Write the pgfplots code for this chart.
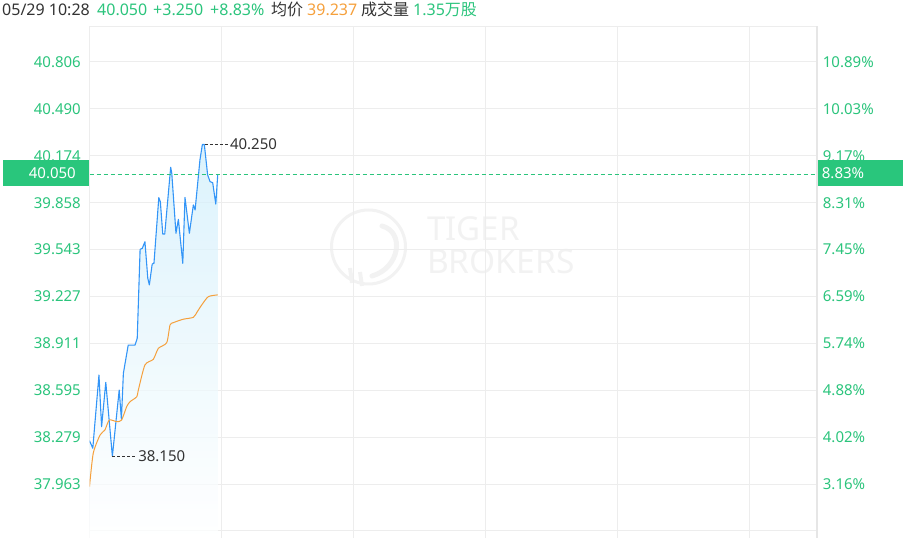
\documentclass[border=0pt]{standalone}
\usepackage{pgfplots}
\pgfplotsset{compat=1.18}
\usepackage{fontspec}
\setmainfont{Noto Sans}
\newfontfamily\cjk{Noto Sans CJK SC}
\definecolor{upgreen}{HTML}{2BC47C}
\definecolor{tagfill}{HTML}{29C67C}
\definecolor{darktext}{HTML}{333333}
\definecolor{avgorange}{HTML}{F5A03C}
\definecolor{lineblue}{HTML}{3395F7}
\definecolor{filltop}{HTML}{D0EEFB}
\definecolor{gridgray}{HTML}{EDEDED}
\definecolor{bordergray}{HTML}{E6E6E6}
\definecolor{wm}{HTML}{F2F2F2}
\begin{document}
\begin{tikzpicture}[x=1pt,y=1pt]
\useasboundingbox (0,0) rectangle (909,538);
% watermark
\draw[wm, line width=3pt] (368.5,291) circle (37);
\draw[wm, line width=5pt, line cap=round] (382,312) .. controls (405,306) and (400,270) .. (372,262);
\draw[wm, line width=4pt] (350,270) -- (352,255);
\draw[wm, line width=4pt] (360,266) -- (362,252);
\node[anchor=base west, inner sep=0pt, text=wm, font=\fontsize{33}{33}\selectfont\bfseries] at (427,297) {TIGER};
\node[anchor=base west, inner sep=0pt, text=wm, font=\fontsize{33.5}{33}\selectfont\bfseries] at (427,264) {BROKERS};
% header
\begin{scope}[every node/.style={anchor=base west, inner sep=0pt, font=\fontsize{16}{16}\selectfont}]
\node[text=darktext] at (2,522) {05/29 10:28};
\node[text=upgreen] at (97,522) {40.050};
\node[text=upgreen] at (153,522) {+3.250};
\node[text=upgreen] at (210,522) {+8.83\%};
\node[text=darktext] at (271,522) {\cjk 均价};
\node[text=avgorange] at (307,522) {39.237};
\node[text=darktext] at (361,522) {\cjk 成交量};
\node[text=upgreen] at (413,522) {1.35{\cjk 万股}};
\end{scope}
\begin{axis}[
  at={(89.5pt,0pt)}, anchor=south west,
  scale only axis, width=727.5pt, height=511.5pt,
  xmin=0, xmax=330.68, ymin=37.5992, ymax=41.0452,
  clip mode=individual,
  axis line style={draw=none},
  tick style={draw=none},
  major tick length=0pt,
  xtick={0,60,120,180,240,300},
  xticklabels={},
  ytick={37.647,37.963,38.279,38.595,38.911,39.227,39.543,39.858,40.174,40.490,40.806},
  yticklabels={{},37.963,38.279,38.595,38.911,39.227,39.543,39.858,40.174,40.490,40.806},
  yticklabel style={anchor=east, inner sep=0pt, xshift=-8.5pt, text=upgreen, font=\fontsize{15}{15}\selectfont},
  grid=major,
  grid style={line width=1pt, color=gridgray},
]
% area under price line
\addplot[draw=none, top color=filltop, bottom color=white, fill opacity=0.75, forget plot] coordinates {
(0,37.5992) (0,38.255) (1.5,38.204) (4.3,38.697) (5.5,38.349) (7.4,38.648) (10.4,38.150)
(13.5,38.596) (14.5,38.399) (15.4,38.709) (17.6,38.899) (20.7,38.899) (21.7,38.945)
(23.0,39.544) (24.0,39.551) (25.2,39.595) (26.5,39.349) (27.2,39.304) (28.5,39.445)
(29.3,39.450) (31.5,39.892) (32.2,39.865) (33.3,39.647) (34.2,39.647) (36.9,40.097)
(37.4,40.056) (39.3,39.652) (40.4,39.746) (42.4,39.450) (43.4,39.894) (45.4,39.652)
(47.2,39.843) (48.0,39.809) (50.2,40.146) (51.3,40.250) (52.2,40.250) (53.7,40.045)
(54.8,40.000) (56.0,39.993) (57.4,39.849) (58.3,40.050) (58.3,37.5992)};
% price line
\addplot[lineblue, line width=1.1pt, line join=round] coordinates {
(0,38.255) (1.5,38.204) (4.3,38.697) (5.5,38.349) (7.4,38.648) (10.4,38.150)
(13.5,38.596) (14.5,38.399) (15.4,38.709) (17.6,38.899) (20.7,38.899) (21.7,38.945)
(23.0,39.544) (24.0,39.551) (25.2,39.595) (26.5,39.349) (27.2,39.304) (28.5,39.445)
(29.3,39.450) (31.5,39.892) (32.2,39.865) (33.3,39.647) (34.2,39.647) (36.9,40.097)
(37.4,40.056) (39.3,39.652) (40.4,39.746) (42.4,39.450) (43.4,39.894) (45.4,39.652)
(47.2,39.843) (48.0,39.809) (50.2,40.146) (51.3,40.250) (52.2,40.250) (53.7,40.045)
(54.8,40.000) (56.0,39.993) (57.4,39.849) (58.3,40.050)};
% average price line
\addplot[avgorange, line width=1pt, smooth, tension=0.4] coordinates {
(0,37.945) (1.7,38.170) (4.8,38.293) (7.0,38.327) (9.0,38.394) (12.4,38.383)
(14.6,38.394) (16.9,38.484) (18.4,38.517) (21.5,38.551) (22.2,38.596) (25.2,38.765)
(29.0,38.803) (31.3,38.877) (35.1,38.915) (36.6,39.034) (38.1,39.050) (42.6,39.073)
(47.2,39.086) (49.0,39.124) (51.0,39.169) (54.0,39.225) (58.3,39.237)};
% current price dashed line
\draw[upgreen, line width=1pt, dash pattern=on 4pt off 3pt] (axis cs:0,40.05) -- (axis cs:330.68,40.05);
% hi / lo annotations
\draw[darktext, line width=0.9pt, dash pattern=on 3pt off 2pt] (axis cs:52.4,40.25) -- (axis cs:63.0,40.25)
  node[anchor=west, inner sep=1.5pt, text=darktext, font=\fontsize{15}{15}\selectfont] {40.250};
\draw[darktext, line width=0.9pt, dash pattern=on 3pt off 2pt] (axis cs:10.4,38.15) -- (axis cs:21.3,38.15)
  node[anchor=west, inner sep=1.5pt, text=darktext, font=\fontsize{15}{15}\selectfont] {38.150};
% right percentage labels
\begin{scope}[every node/.style={anchor=west, inner sep=0pt, xshift=5.7pt, text=upgreen, font=\fontsize{15}{15}\selectfont}]
\node at (axis cs:330.68,37.963) {3.16\%};
\node at (axis cs:330.68,38.279) {4.02\%};
\node at (axis cs:330.68,38.595) {4.88\%};
\node at (axis cs:330.68,38.911) {5.74\%};
\node at (axis cs:330.68,39.227) {6.59\%};
\node at (axis cs:330.68,39.543) {7.45\%};
\node at (axis cs:330.68,39.858) {8.31\%};
\node at (axis cs:330.68,40.174) {9.17\%};
\node at (axis cs:330.68,40.490) {10.03\%};
\node at (axis cs:330.68,40.806) {10.89\%};
\end{scope}
% price tags
\coordinate (L) at (axis cs:0,40.05);
\coordinate (R) at (axis cs:330.68,40.05);
\fill[tagfill] ([xshift=-86.5pt,yshift=-11.5pt]L) rectangle ([xshift=-1pt,yshift=14pt]L);
\node[anchor=east, inner sep=0pt, text=white, font=\fontsize{15}{15}\selectfont] at ([xshift=-13.5pt,yshift=1pt]L) {40.050};
\fill[tagfill] ([xshift=0.7pt,yshift=-11.5pt]R) rectangle ([xshift=86pt,yshift=14pt]R);
\node[anchor=west, inner sep=0pt, text=white, font=\fontsize{15}{15}\selectfont] at ([xshift=4.7pt,yshift=1pt]R) {8.83\%};
\end{axis}
% frame lines
\draw[gridgray, line width=1pt] (89.5,511.5) -- (817,511.5);
\draw[bordergray, line width=2pt] (816.5,0) -- (816.5,512);
\end{tikzpicture}
\end{document}
